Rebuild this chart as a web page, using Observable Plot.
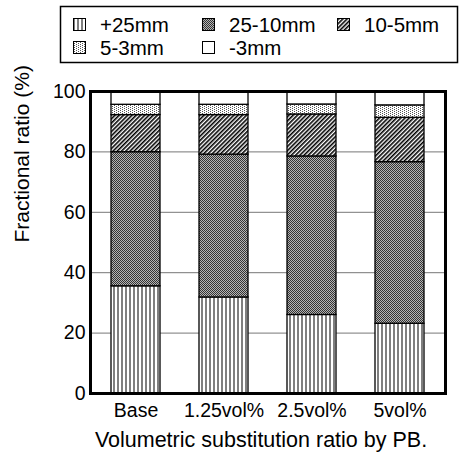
<!DOCTYPE html>
<html>
<head>
<meta charset="utf-8">
<script src="https://cdn.jsdelivr.net/npm/d3@7"></script>
<script src="https://cdn.jsdelivr.net/npm/@observablehq/plot@0.6"></script>
<style>
  html, body { margin: 0; padding: 0; background: white; }
  #wrap { position: relative; width: 459px; height: 457px; font-family: "Liberation Sans", Arial, sans-serif; }
  #legend { position: absolute; left: 0; top: 0; }
  #chart { position: absolute; left: 0; top: 0; }
</style>
</head>
<body>
<svg width="0" height="0" style="position:absolute">
  <defs>
    <pattern id="p25" width="4" height="4" patternUnits="userSpaceOnUse">
      <rect width="4" height="4" fill="white"/>
      <rect x="1.5" width="1" height="4" fill="black"/>
    </pattern>
    <pattern id="p2510" width="2" height="2" patternUnits="userSpaceOnUse">
      <rect width="2" height="2" fill="#b4b4b4"/>
      <rect width="1" height="1" fill="#333"/>
      <rect x="1" y="1" width="1" height="1" fill="#333"/>
    </pattern>
    <pattern id="p105" width="3" height="3" patternUnits="userSpaceOnUse" patternTransform="rotate(45)">
      <rect width="3" height="3" fill="white"/>
      <rect width="1.6" height="3" fill="black"/>
    </pattern>
    <pattern id="p53" width="4" height="2" patternUnits="userSpaceOnUse">
      <rect width="4" height="2" fill="white"/>
      <rect width="1" height="1" fill="#555"/>
      <rect x="2" y="1" width="1" height="1" fill="#555"/>
    </pattern>
  </defs>
</svg>
<div id="wrap">
  <div id="chart"></div>
  <svg id="legend" width="459" height="70"></svg>
</div>
<script>
const categories = ["Base", "1.25vol%", "2.5vol%", "5vol%"];
const sizes = ["+25mm", "25-10mm", "10-5mm", "5-3mm", "-3mm"];
const plus25 = [35.5, 31.8, 26.0, 23.1];
const mm25to10 = [44.4, 47.3, 52.5, 53.5];
const mm10to5 = [12.3, 13.1, 13.9, 14.7];
const mm5to3 = [3.4, 3.4, 3.3, 4.1];
const minus3 = [4.4, 4.4, 4.3, 4.6];
const yTicks = [0, 20, 40, 60, 80, 100];
const gridTicks = [20, 40, 60, 80];
const xTitle = "Volumetric substitution ratio by PB.";
const yTitle = "Fractional ratio (%)";

const fills = ["url(#p25)", "url(#p2510)", "url(#p105)", "url(#p53)", "white"];
const series = [plus25, mm25to10, mm10to5, mm5to3, minus3];

const data = [];
sizes.forEach((s, i) => {
  categories.forEach((c, j) => {
    data.push({cat: c, size: s, value: series[i][j]});
  });
});

const font = "'Liberation Sans', Arial, sans-serif";

const chart = Plot.plot({
  width: 459,
  height: 457,
  marginLeft: 90,
  marginRight: 14,
  marginTop: 91,
  marginBottom: 64,
  style: {fontFamily: font, background: "white", color: "black"},
  x: {domain: categories, paddingInner: 0.44, paddingOuter: 0.22, label: null},
  y: {domain: [0, 100], label: null},
  color: {domain: sizes, range: fills},
  marks: [
    Plot.ruleY(gridTicks, {stroke: "#777", strokeWidth: 1}),
    Plot.barY(data, {x: "cat", y: "value", fill: "size", stroke: "black", strokeWidth: 1.3}),
    Plot.frame({stroke: "black", strokeWidth: 3}),
    Plot.axisY({ticks: yTicks, tickSize: 0, tickPadding: 5, fontSize: 19.5, label: null}),
    Plot.axisX({tickSize: 0, tickPadding: 10, fontSize: 19.5, label: null}),
    Plot.text([yTitle], {frameAnchor: "left", dx: -68, rotate: -90, fontSize: 21, text: d => d}),
    Plot.text([xTitle], {frameAnchor: "bottom", dy: 53, dx: -7, fontSize: 21.5, text: d => d})
  ]
});
document.getElementById("chart").appendChild(chart);

// Legend
const leg = d3.select("#legend");
leg.append("rect").attr("x", 60.5).attr("y", 6.5).attr("width", 397).attr("height", 56)
  .attr("fill", "none").attr("stroke", "black").attr("stroke-width", 1.5);
const legPos = [[73, 25], [202, 25], [337, 25], [73, 48], [202, 48]];
sizes.forEach((s, i) => {
  const [x, y] = legPos[i];
  leg.append("rect").attr("x", x + 0.5).attr("y", y - 6.5).attr("width", 12).attr("height", 12)
    .attr("fill", fills[i]).attr("stroke", "black").attr("stroke-width", 1);
  leg.append("text").attr("x", x + 27).attr("y", y).attr("dy", "0.36em")
    .attr("font-size", 20.5).attr("font-family", font).attr("fill", "black").text(s);
});
</script>
</body>
</html>
